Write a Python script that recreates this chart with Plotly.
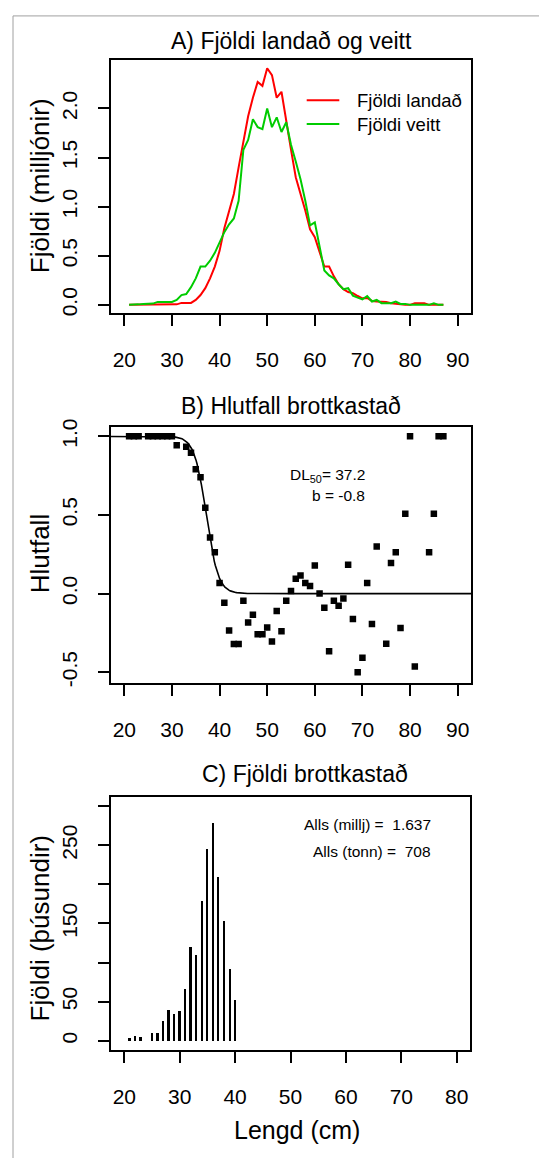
import numpy as np
import plotly.graph_objects as go

# ---------------- data ----------------
lengd = list(range(21, 88))  # length classes (cm)

landad = [0.0, 0.0, 0.0, 0.0, 0.0, 0.0, 0.0, 0.0, 0.0, 0.0,
          0.005, 0.02, 0.02, 0.02, 0.05, 0.10, 0.17, 0.27, 0.39, 0.55,
          0.78, 0.97, 1.13, 1.40, 1.66, 1.92, 2.11, 2.27, 2.23, 2.41,
          2.34, 2.11, 2.17, 1.85, 1.58, 1.30, 1.14, 0.96, 0.77, 0.69,
          0.54, 0.39, 0.39, 0.29, 0.21, 0.16, 0.13, 0.12, 0.09, 0.067,
          0.07, 0.04, 0.034, 0.034, 0.03, 0.017, 0.01, 0.01, 0.0, 0.0,
          0.017, 0.017, 0.017, 0.0, 0.0, 0.0, 0.0]

veitt = [0.0, 0.0, 0.005, 0.01, 0.013, 0.013, 0.03, 0.03, 0.03, 0.03,
         0.05, 0.10, 0.11, 0.18, 0.27, 0.39, 0.39, 0.45, 0.53, 0.63,
         0.74, 0.82, 0.88, 1.06, 1.58, 1.68, 1.89, 1.81, 1.79, 2.00,
         1.81, 1.91, 1.76, 1.86, 1.63, 1.46, 1.28, 1.06, 0.81, 0.84,
         0.59, 0.35, 0.30, 0.27, 0.21, 0.16, 0.17, 0.094, 0.074, 0.057,
         0.09, 0.034, 0.05, 0.017, 0.017, 0.017, 0.034, 0.01, 0.01, 0.0,
         0.0, 0.0, 0.0, 0.0, 0.017, 0.0, 0.0]

hlutfall_lengd = [21, 22, 23, 25, 26, 27, 28, 29, 30, 31, 33, 34, 35, 36, 37,
                  38, 39, 40, 41, 42, 43, 44, 45, 46, 47, 48, 49, 50, 51, 52,
                  53, 54, 55, 56, 57, 58, 59, 60, 61, 62, 63, 64, 65, 66, 67,
                  68, 69, 70, 71, 72, 73, 75, 76, 77, 78, 79, 80, 81, 84, 85,
                  86, 87]
hlutfall = [1.0, 1.0, 1.0, 1.0, 1.0, 1.0, 1.0, 1.0, 1.0, 0.943, 0.933, 0.895,
            0.79, 0.74, 0.545, 0.357, 0.262, 0.067, -0.058, -0.235, -0.32,
            -0.32, -0.046, -0.184, -0.134, -0.258, -0.258, -0.216, -0.304,
            -0.11, -0.24, -0.046, 0.017, 0.094, 0.115, 0.067, 0.048, 0.178,
            0.0, -0.09, -0.367, -0.046, -0.078, -0.031, 0.184, -0.161, -0.5,
            -0.407, 0.067, -0.193, 0.30, -0.319, 0.195, 0.262, -0.218, 0.507,
            1.0, -0.463, 0.262, 0.507, 1.0, 1.0]

DL50 = 37.2
b = -0.8

brottkast_lengd = [21, 22, 23, 25, 26, 27, 28, 29, 30, 31, 32, 33, 34, 35, 36,
                   37, 38, 39, 40]
brottkast = [4, 7, 5, 10, 10, 25, 40, 35, 38, 66, 120, 110, 179, 245, 279,
             210, 153, 92, 53]
alls_millj = 1.637
alls_tonn = 708

xticks_ab = [20, 30, 40, 50, 60, 70, 80, 90]
xticks_c = [20, 30, 40, 50, 60, 70, 80]
yticks_a = [0.0, 0.5, 1.0, 1.5, 2.0]
yticks_b = [-0.5, 0.0, 0.5, 1.0]
yticks_c = [0, 50, 100, 150, 200, 250, 300]
yticklabels_c = ["0", "50", "", "150", "", "250", ""]

# ---------------- layout helpers ----------------
W, H = 539, 1162


def fx(px):
    return px / W


def fy(py):
    return 1 - py / H


FONT = "Liberation Sans"
NARROW = "Liberation Sans Narrow, Liberation Sans"

fig = go.Figure()

# A) landed and measured numbers
fig.add_trace(go.Scatter(x=lengd, y=landad, mode="lines",
                         line=dict(color="#FF0000", width=2),
                         xaxis="x", yaxis="y", showlegend=False))
fig.add_trace(go.Scatter(x=lengd, y=veitt, mode="lines",
                         line=dict(color="#00CC00", width=2),
                         xaxis="x", yaxis="y", showlegend=False))

# B) discard proportion with fitted logistic curve
curve_x = np.linspace(10, 100, 400)
curve_y = 1 / (1 + np.exp(-b * (curve_x - DL50)))
fig.add_trace(go.Scatter(x=curve_x, y=curve_y, mode="lines",
                         line=dict(color="black", width=1.6),
                         xaxis="x2", yaxis="y2", showlegend=False))
fig.add_trace(go.Scatter(x=hlutfall_lengd, y=hlutfall, mode="markers",
                         marker=dict(symbol="square", size=6.5, color="black"),
                         xaxis="x2", yaxis="y2", showlegend=False))

# C) discarded numbers
fig.add_trace(go.Bar(x=brottkast_lengd, y=brottkast, width=0.36,
                     marker=dict(color="black", line=dict(width=0)),
                     xaxis="x3", yaxis="y3", showlegend=False))

axis_common = dict(showline=True, mirror=True, linecolor="black", linewidth=2,
                   ticks="outside", ticklen=11, tickwidth=2, tickcolor="black",
                   showgrid=False, zeroline=False,
                   tickfont=dict(family=FONT, size=21, color="black"))

XSTAND, YSTAND = 16, 13
xdom = [fx(111), fx(471)]
fig.update_layout(
    width=W, height=H, margin=dict(l=0, r=0, t=0, b=0),
    paper_bgcolor="white", plot_bgcolor="white", showlegend=False,
    bargap=0,
    xaxis=dict(axis_common, domain=xdom, range=[17.2, 92.8], anchor="y",
               tickvals=xticks_ab, ticklabelstandoff=XSTAND),
    yaxis=dict(axis_common, domain=[fy(308), fy(53)], range=[-0.081, 2.489],
               anchor="x", tickvals=yticks_a,
               ticktext=[f"{v:.1f}" for v in yticks_a], tickangle=-90,
               ticklabelstandoff=YSTAND),
    xaxis2=dict(axis_common, domain=xdom, range=[17.2, 92.8], anchor="y2",
                tickvals=xticks_ab, ticklabelstandoff=XSTAND),
    yaxis2=dict(axis_common, domain=[fy(681.7), fy(423.3)],
                range=[-0.566, 1.059], anchor="x2", tickvals=yticks_b,
                ticktext=[f"{v:.1f}" for v in yticks_b], tickangle=-90,
                ticklabelstandoff=YSTAND),
    xaxis3=dict(axis_common, domain=[fx(111), fx(470)], range=[17.6, 82.4],
                anchor="y3", tickvals=xticks_c, ticklabelstandoff=XSTAND),
    yaxis3=dict(axis_common, domain=[fy(1053), fy(797)], range=[-12, 312],
                anchor="x3", tickvals=yticks_c, ticktext=yticklabels_c,
                tickangle=-90, ticklabelstandoff=YSTAND),
)

annotations = []


def text(x, y, s, size, family=FONT, xanchor="center", angle=0, xref="paper",
         yref="paper"):
    annotations.append(dict(x=x, y=y, xref=xref, yref=yref, text=s,
                            showarrow=False, xanchor=xanchor, yanchor="middle",
                            textangle=angle,
                            font=dict(family=family, size=size, color="black")))


# panel titles
text(fx(291), fy(33), "A) Fjöldi landað og veitt", 23, NARROW)
text(fx(291), fy(402), "B) Hlutfall brottkastað", 23, NARROW)
text(fx(305), fy(774), "C) Fjöldi brottkastað", 23, NARROW)

# axis titles
text(fx(40), fy(180), "Fjöldi (milljónir)", 26, angle=-90)
text(fx(40), fy(552), "Hlutfall", 26, angle=-90)
text(fx(40), fy(930), "Fjöldi (þúsundir)", 26, angle=-90)
text(fx(297), fy(1134), "Lengd (cm)", 25, NARROW)

# legend for panel A
leg = [("Fjöldi landað", "#FF0000", 93.3), ("Fjöldi veitt", "#00CC00", 117.3)]
shapes = []
for label, col, ypx in leg:
    shapes.append(dict(type="line", xref="paper", yref="paper",
                       x0=fx(306.7), x1=fx(339.3), y0=fy(ypx), y1=fy(ypx),
                       line=dict(color=col, width=2)))
    text(fx(355), fy(ypx), label, 18.5, xanchor="left")

# fit parameters in panel B
text(fx(367), fy(472), f"DL<sub>50</sub>= {DL50}", 15.5, xanchor="right")
text(fx(367), fy(493), f"b = {b}", 15.5, xanchor="right")

# totals in panel C
text(fx(433), fy(825), f"Alls (millj) =\u00a0 {alls_millj}", 15.5, xanchor="right")
text(fx(433), fy(852), f"Alls (tonn) =\u00a0 {alls_tonn}", 15.5, xanchor="right")

# outer frame (left and top edges)
shapes.append(dict(type="line", xref="paper", yref="paper",
                   x0=fx(13), x1=1.0, y0=fy(8), y1=fy(8),
                   line=dict(color="#A0A0A0", width=1)))
shapes.append(dict(type="line", xref="paper", yref="paper",
                   x0=fx(13), x1=fx(13), y0=fy(8), y1=0,
                   line=dict(color="#A0A0A0", width=1)))

fig.update_layout(annotations=annotations, shapes=shapes)

fig.write_html("out.html")
